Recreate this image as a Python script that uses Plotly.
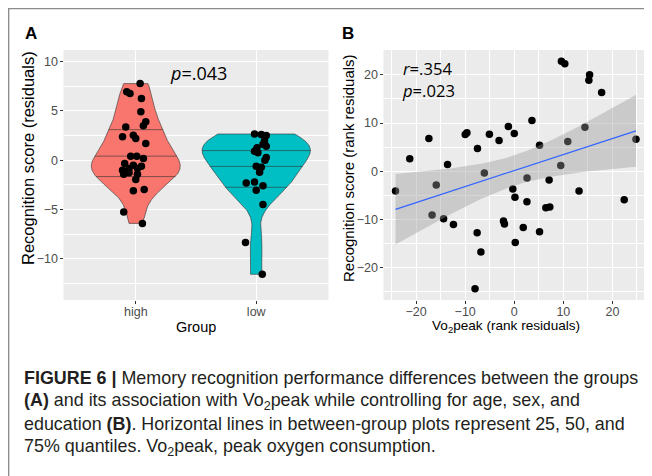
import numpy as np
import plotly.graph_objects as go

# the page adds an 8px body margin, so the figure is drawn 8px smaller and
# every screenshot pixel position is shifted by that margin
OFF = 8
W, H = 652 - OFF, 476 - OFF

# ---------------- data ----------------
groups = ["high", "low"]
group_colors = ["#F8766D", "#00BFC4"]

high_vals = [7.75, 6.92, 6.76, 6.25, 4.9, 3.88, 3.48, 3.37, 2.36, 2.53, 2.2, 1.69,
             0.41, 0.41, 0.17, -0.34, -0.51, -0.61, -1.01, -0.84, -0.84, -1.42,
             -1.28, -1.42, -1.96, -3.1, -2.97, -5.24, -6.4]
high_jit = [0.036, -0.075, -0.048, 0.047, 0.042, 0.083, 0.063, -0.083, -0.11, -0.02,
            0.0, 0.083, -0.042, 0.008, 0.063, -0.092, -0.02, 0.047, -0.11, -0.056,
            0.014, -0.10, -0.056, 0.014, 0.0, -0.02, 0.07, -0.1, 0.055]
low_vals = [2.65, 2.6, 2.5, 1.96, 1.62, 1.42, 1.25, 0.91, 0.74, 0.27, 0.0, -0.61,
            -0.71, -1.22, -2.30, -2.20, -2.60, -3.04, -4.49, -8.34, -11.55]
low_jit = [-0.014, 0.042, 0.083, 0.069, 0.056, 0.083, 0.006, -0.014, 0.014, 0.083,
           0.072, 0.0, 0.042, 0.028, -0.083, -0.014, 0.056, 0.0, 0.056, -0.089, 0.05]
quantiles = [0.25, 0.5, 0.75]
a_ylim = [-13, 10]
a_yticks = [-10, -5, 0, 5, 10]

vo2_rank = [-24.2, -21.3, -17.4, -16.75, -15.9, -14.4, -13.6, -12.4, -10.0, -9.65,
            -8.0, -7.57, -7.5, -6.8, -6.1, -5.07, -3.1, -2.2, -2.0, -1.2, -0.3, 0.0,
            0.14, 0.2, 1.83, 2.6, 2.58, 3.6, 5.15, 5.15, 6.43, 7.1, 7.24, 9.47, 9.6,
            10.3, 10.9, 13.2, 14.4, 15.2, 15.35, 17.8, 22.4, 24.8]
recog_rank = [-4.1, 2.6, 6.8, -9.1, -2.9, -9.9, 1.4, -11.1, 7.6, 8.0, -24.4, -12.8,
              4.7, -16.8, -0.4, 7.66, 6.35, -10.35, -11.0, 9.25, -3.7, 7.8, -5.4,
              -14.8, -11.7, -1.4, -6.35, 10.5, 5.38, -12.56, -7.6, -1.86, -7.45, 1.17,
              22.8, 22.3, 6.15, -4.14, 9.1, 18.9, 20.0, 16.35, -5.93, 6.6]
b_ticks = [-20, -10, 0, 10, 20]

caption_lines = [
    "<b>FIGURE 6 |</b> Memory recognition performance differences between the groups",
    "<b>(A)</b> and its association with Vo<sub>2</sub>peak while controlling for age, sex, and",
    "education <b>(B)</b>. Horizontal lines in between-group plots represent 25, 50, and",
    "75% quantiles. Vo<sub>2</sub>peak, peak oxygen consumption.",
]

# ---------------- helpers ----------------
def nrd0(x):
    x = np.asarray(x, float)
    sd = np.std(x, ddof=1)
    q75, q25 = np.percentile(x, [75, 25])
    lo = min(sd, (q75 - q25) / 1.34)
    return 0.9 * lo * len(x) ** -0.2


def kde(x, grid):
    x = np.asarray(x, float)
    bw = nrd0(x)
    z = (grid[:, None] - x[None, :]) / bw
    return np.exp(-0.5 * z ** 2).sum(1) / (len(x) * bw * np.sqrt(2 * np.pi))


def px_x(p):
    return (p - OFF) / W


def px_y(p):
    return 1 - (p - OFF) / H


fig = go.Figure()

# ---------------- Panel A: violins ----------------
samples = [high_vals, low_vals]
jits = [high_jit, low_jit]
grids, dens = [], []
for vals in samples:
    g = np.linspace(min(vals), max(vals), 512)
    grids.append(g)
    dens.append(kde(vals, g))
dmax = max(d.max() for d in dens)

for i, (g, d) in enumerate(zip(grids, dens)):
    c = i + 1
    hw = 0.45 * d / dmax
    xs = np.concatenate([c + hw, (c - hw)[::-1], [c + hw[0]]])
    ys = np.concatenate([g, g[::-1], [g[0]]])
    fig.add_trace(go.Scatter(x=xs, y=ys, mode="lines", fill="toself",
                             fillcolor=group_colors[i],
                             line=dict(color="#333333", width=0.6),
                             hoverinfo="skip", showlegend=False,
                             xaxis="x", yaxis="y"))
    cdf = np.cumsum(d) / d.sum()
    qx, qy = [], []
    for q in quantiles:
        yq = np.interp(q, cdf, g)
        w = 0.45 * np.interp(yq, g, d) / dmax
        qx += [c - w, c + w, None]
        qy += [yq, yq, None]
    fig.add_trace(go.Scatter(x=qx, y=qy, mode="lines",
                             line=dict(color="#333333", width=0.6),
                             hoverinfo="skip", showlegend=False,
                             xaxis="x", yaxis="y"))

for i, (vals, jit) in enumerate(zip(samples, jits)):
    fig.add_trace(go.Scatter(x=[i + 1 + j for j in jit], y=vals, mode="markers",
                             marker=dict(color="black", size=7.5),
                             showlegend=False, xaxis="x", yaxis="y"))

# ---------------- Panel B: scatter + lm ----------------
bx = np.asarray(vo2_rank, float)
by = np.asarray(recog_rank, float)
fig.add_trace(go.Scatter(x=bx, y=by, mode="markers",
                         marker=dict(color="black", size=7.5),
                         showlegend=False, xaxis="x2", yaxis="y2"))

n = len(bx)
slope, intercept = np.polyfit(bx, by, 1)
xs = np.linspace(bx.min(), bx.max(), 80)
fit = intercept + slope * xs
resid = by - (intercept + slope * bx)
s = np.sqrt((resid ** 2).sum() / (n - 2))
sxx = ((bx - bx.mean()) ** 2).sum()
try:
    from scipy import stats
    tq = stats.t.ppf(0.975, n - 2)
except Exception:
    tq = 2.018
se = s * np.sqrt(1 / n + (xs - bx.mean()) ** 2 / sxx)
up, lo = fit + tq * se, fit - tq * se
fig.add_trace(go.Scatter(x=np.concatenate([xs, xs[::-1]]),
                         y=np.concatenate([up, lo[::-1]]),
                         mode="lines", fill="toself",
                         fillcolor="rgba(153,153,153,0.4)",
                         line=dict(width=0), hoverinfo="skip",
                         showlegend=False, xaxis="x2", yaxis="y2"))
fig.add_trace(go.Scatter(x=xs, y=fit, mode="lines",
                         line=dict(color="#3366FF", width=1.3),
                         showlegend=False, xaxis="x2", yaxis="y2"))


def expand(lo_, hi_):
    span = hi_ - lo_
    return [lo_ - 0.05 * span, hi_ + 0.05 * span]


a_yrange = expand(*a_ylim)
b_xrange = expand(bx.min(), bx.max())
b_yrange = expand(min(by.min(), lo.min()), max(by.max(), up.max()))

# ---------------- layout ----------------
ydom = [px_y(300), px_y(50)]
tickfont = dict(family="Liberation Sans, Arial, sans-serif", size=12.5, color="#4D4D4D")
axis_common = dict(showline=False, zeroline=False, ticks="outside", ticklen=3,
                   tickcolor="#333333", tickwidth=1, tickfont=tickfont,
                   gridcolor="white", gridwidth=1.4)
minor5 = dict(dtick=5, tick0=0, showgrid=True, gridcolor="white", gridwidth=0.7, ticks="")

fig.update_layout(
    width=W, height=H, margin=dict(l=0, r=0, t=0, b=0),
    paper_bgcolor="white", plot_bgcolor="#EBEBEB",
    showlegend=False,
    xaxis=dict(domain=[px_x(63.5), px_x(328.5)], range=[0.4, 2.6],
               tickvals=[1, 2], ticktext=groups, anchor="y",
               ticklabelstandoff=-3, **axis_common),
    yaxis=dict(domain=ydom, range=a_yrange, tickvals=a_yticks, anchor="x",
               ticklabelstandoff=-1,
               minor=dict(dtick=2.5, tick0=0, showgrid=True, gridcolor="white",
                          gridwidth=0.7, ticks=""),
               **axis_common),
    xaxis2=dict(domain=[px_x(383.5), px_x(648)], range=b_xrange, tickvals=b_ticks,
                anchor="y2", minor=minor5, ticklabelstandoff=-3, **axis_common),
    yaxis2=dict(domain=ydom, range=b_yrange, tickvals=b_ticks, anchor="x2",
                ticklabelstandoff=-1, minor=minor5, **axis_common),
)


def note(text, x, y, size, family="Liberation Sans, Arial, sans-serif", angle=0,
         xanchor="center", xref="paper", yref="paper", color="black", align="center"):
    if xref == "paper":
        x = px_x(x)
    if yref == "paper":
        y = px_y(y)
    return dict(text=text, x=x, y=y, xref=xref, yref=yref, xanchor=xanchor,
                yanchor="middle", showarrow=False, textangle=angle, align=align,
                font=dict(family=family, size=size, color=color))


ann = [
    note("<b>A</b>", 31, 33, 17),
    note("<b>B</b>", 348, 33, 17),
    note("Group", 195.5, 326.5, 14.5),
    note("Vo<sub>2</sub>peak (rank residuals)", 506, 326, 13.6),
    note("Recognition score (residuals)", 28, 158, 16.5, angle=-90),
    note("Recognition score (rank residuals)", 348, 168, 15, angle=-90),
]
stat_fam = "Open Sans, DejaVu Sans, sans-serif"
ann.append(note("<i>p</i>=.043", 1.52, 8.8, 18, family=stat_fam, xref="x", yref="y"))
ann.append(note("<i>r</i>=.354<br><i>p</i>=.023", -23.2, 19.0, 16.6, family=stat_fam,
                xref="x2", yref="y2", xanchor="left", align="left"))
for k, line in enumerate(caption_lines):
    ann.append(note(line, 22, 378 + 23 * k, 17.9, xanchor="left", color="#231F20"))
fig.update_layout(annotations=ann)

fig.update_layout(shapes=[
    dict(type="line", xref="paper", yref="paper", x0=0, x1=1.0,
         y0=px_y(8.6), y1=px_y(8.6), line=dict(color="#8C8C8C", width=1.5)),
    dict(type="line", xref="paper", yref="paper", x0=px_x(8.6), x1=px_x(8.6),
         y0=0, y1=px_y(8.6), line=dict(color="#8C8C8C", width=1.5)),
])

fig.write_html("out.html")
